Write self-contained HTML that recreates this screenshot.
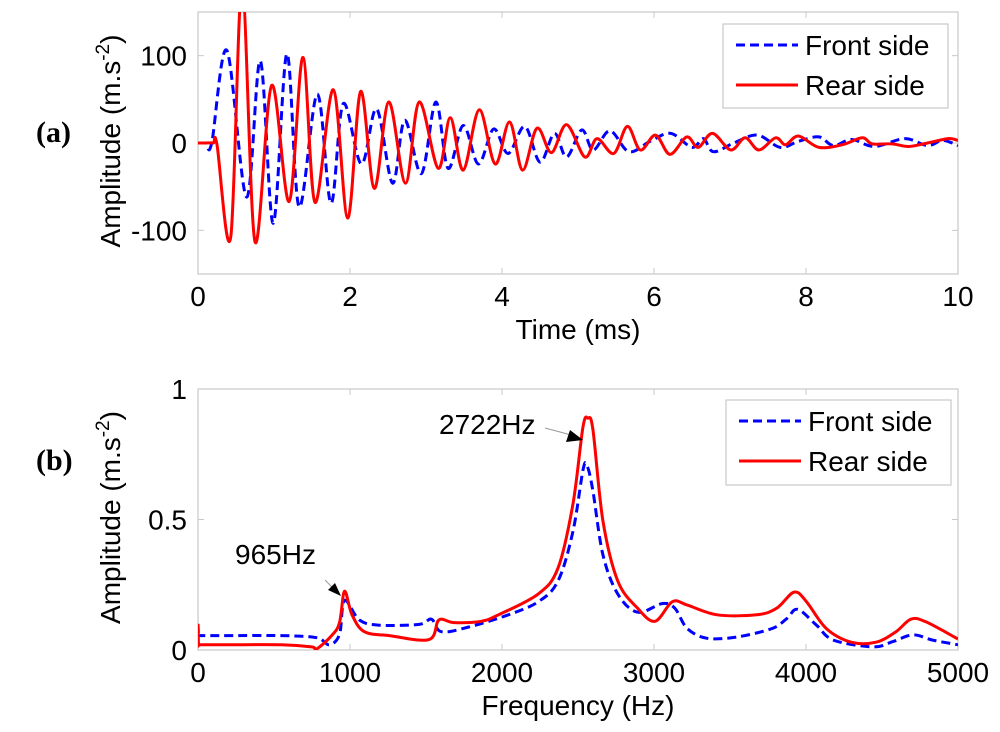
<!DOCTYPE html>
<html><head><meta charset="utf-8">
<style>
html,body{margin:0;padding:0;background:#fff;}
svg{display:block;font-family:"Liberation Sans",Arial,sans-serif;}
</style></head>
<body>
<svg id="chart" width="1000" height="732" viewBox="0 0 1000 732" xmlns="http://www.w3.org/2000/svg">
<text x="36" y="142" font-family="Liberation Serif,serif" font-weight="bold" font-size="30">(a)</text>
<text x="36" y="470" font-family="Liberation Serif,serif" font-weight="bold" font-size="30">(b)</text>
<g id="pa"></g>
<g id="pb"></g>
</svg>
<script>
// Panel (a) data: time (ms) and amplitude
const frontT=[0,0.1,0.18,0.38,0.64,0.82,0.99,1.17,1.33,1.57,1.75,1.91,2.15,2.35,2.56,2.72,2.94,3.13,3.29,3.49,3.69,3.89,4.08,4.30,4.50,4.69,4.85,5.05,5.2,5.42,5.67,5.95,6.22,6.5,6.65,6.78,7.05,7.36,7.66,7.9,8.17,8.36,8.6,8.9,9.3,9.6,9.8,10];
const frontA=[0,0,0,106,-62,94,-92,102,-73,56,-69,45,-24,39,-46,26,-35,47,-29,20,-24,16,-12,19,-22,11,-16,15,-8,14,-10,2,11,-5,5,-10,0,9,-5,2,7,-3,4,-4,5,-3,3,-3];
const rearT=[0,0.1,0.2,0.25,0.43,0.58,0.75,0.97,1.2,1.38,1.54,1.78,1.97,2.14,2.32,2.51,2.73,2.91,3.16,3.32,3.49,3.70,3.91,4.10,4.27,4.46,4.65,4.85,5.09,5.25,5.47,5.65,5.82,6.02,6.21,6.43,6.58,6.77,7.01,7.2,7.38,7.6,7.73,7.9,8.17,8.48,8.74,8.87,9.13,9.35,9.6,9.87,10];
const rearA=[0,0,0,-2,-108,180,-113,66,-67,98,-68,61,-86,59,-52,47,-46,47,-29,29,-31,38,-24,24,-31,17,-11,21,-16,5,-12,19,-8,9,-13,7,-5,11,-8,6,-8,6,-2,8,-5,-2,6,-1,-1,-4,0,5,3];
const aXTicks=[0,2,4,6,8,10];
const aYTicks=[-100,0,100];
// Panel (b) data: frequency (Hz) and amplitude
const frontF=[0,3,6,200,550,781,863,931,964,1062,1193,1454,1536,1601,1781,2042,2239,2369,2467,2533,2560,2598,2664,2761,2892,3056,3137,3219,3350,3546,3775,3873,3945,4069,4180,4441,4572,4703,4833,5000];
const frontM=[0.1,0.055,0.055,0.055,0.055,0.047,0.02,0.06,0.19,0.115,0.095,0.098,0.118,0.07,0.088,0.135,0.185,0.265,0.455,0.69,0.705,0.61,0.365,0.215,0.145,0.178,0.16,0.082,0.045,0.05,0.082,0.12,0.156,0.095,0.038,0.012,0.032,0.058,0.038,0.02];
const rearF=[0,3,6,200,550,748,780,879,931,964,1013,1095,1258,1520,1585,1683,1863,1977,2239,2369,2467,2533,2565,2598,2664,2761,2892,3007,3121,3219,3415,3676,3807,3922,4003,4134,4297,4461,4592,4690,4788,5000];
const rearM=[0.1,0.02,0.02,0.02,0.02,0.012,0.004,0.055,0.105,0.225,0.135,0.07,0.055,0.04,0.115,0.105,0.11,0.135,0.215,0.315,0.56,0.855,0.888,0.845,0.495,0.265,0.16,0.11,0.185,0.172,0.135,0.135,0.16,0.222,0.185,0.082,0.03,0.03,0.07,0.118,0.108,0.042];
const bXTicks=[0,1000,2000,3000,4000,5000];
const bYTicks=[0,0.5,1];
const bYLabels=['0','0.5','1'];

const NS='http://www.w3.org/2000/svg';
function mk(tag,attrs,parent){const e=document.createElementNS(NS,tag);for(const k in attrs)e.setAttribute(k,attrs[k]);parent.appendChild(e);return e;}
function smooth(pts){let d='M'+pts[0][0].toFixed(1)+','+pts[0][1].toFixed(1);
 for(let i=0;i<pts.length-1;i++){const p0=pts[Math.max(0,i-1)],p1=pts[i],p2=pts[i+1],p3=pts[Math.min(pts.length-1,i+2)];
 const c1x=p1[0]+(p2[0]-p0[0])/6,c1y=p1[1]+(p2[1]-p0[1])/6,c2x=p2[0]-(p3[0]-p1[0])/6,c2y=p2[1]-(p3[1]-p1[1])/6;
 d+=' C'+c1x.toFixed(1)+','+c1y.toFixed(1)+' '+c2x.toFixed(1)+','+c2y.toFixed(1)+' '+p2[0].toFixed(1)+','+p2[1].toFixed(1);}
 return d;}

function panel(g,o){
 const X=v=>o.x0+(v-o.xmin)/(o.xmax-o.xmin)*(o.x1-o.x0);
 const Y=v=>o.y0-(v-o.ymin)/(o.ymax-o.ymin)*(o.y0-o.y1);
 const ax=mk('rect',{x:o.x0,y:o.y1,width:o.x1-o.x0,height:o.y0-o.y1,fill:'#fff',stroke:'#c8c8c8','stroke-width':1.2},g);
 
 
 o.xt.forEach((t,i)=>{const x=X(t);
  mk('line',{x1:x,x2:x,y1:o.y0,y2:o.y0-6,stroke:'#c8c8c8'},g);mk('line',{x1:x,x2:x,y1:o.y1,y2:o.y1+6,stroke:'#c8c8c8'},g);
  const tx=mk('text',{x:x,y:o.y0+32,'font-size':28,'text-anchor':'middle',fill:'#000'},g);tx.textContent=String(t);
  
  });
 o.yt.forEach((t,i)=>{const y=Y(t);
  mk('line',{x1:o.x0,x2:o.x0+6,y1:y,y2:y,stroke:'#c8c8c8'},g);mk('line',{x1:o.x1,x2:o.x1-6,y1:y,y2:y,stroke:'#c8c8c8'},g);
  const tx=mk('text',{x:o.x0-11,y:y+10,'font-size':28,'text-anchor':'end',fill:'#000'},g);tx.textContent=o.yl?o.yl[i]:String(t);
  
  });
 const cid='clip'+o.id;const cp=mk('clipPath',{id:cid},g);mk('rect',{x:o.x0,y:o.y1,width:o.x1-o.x0,height:o.y0-o.y1},cp);
 const p1=mk('path',{d:smooth(o.fx.map((v,i)=>[X(v),Y(o.fy[i])])),fill:'none',stroke:'#0000ff','stroke-width':3,'stroke-dasharray':'9,5','clip-path':'url(#'+cid+')'},g);
 
 
 const p2=mk('path',{d:smooth(o.rx.map((v,i)=>[X(v),Y(o.ry[i])])),fill:'none',stroke:'#ff0000','stroke-width':3,'clip-path':'url(#'+cid+')'},g);
 
 
 const xl=mk('text',{x:(o.x0+o.x1)/2,y:o.y0+65,'font-size':28,'text-anchor':'middle'},g);xl.textContent=o.xlabel;
 
 
 const cy=(o.y0+o.y1)/2;
 const yl=mk('text',{x:0,y:0,'font-size':28,'text-anchor':'middle',transform:'translate('+(o.x0-78)+','+(cy-2)+') rotate(-90)'},g);
 yl.innerHTML='Amplitude (m.s<tspan dy="-11" font-size="19">-2</tspan><tspan dy="11">)</tspan>';
 
 
 const L=o.leg;const lg=mk('g',{},g);
 
 
 mk('rect',{x:L[0],y:L[1],width:L[2],height:L[3],fill:'#fff',stroke:'#c8c8c8','stroke-width':1.2},lg);
 mk('line',{x1:L[0]+13,x2:L[0]+75,y1:L[1]+21,y2:L[1]+21,stroke:'#0000ff','stroke-width':3,'stroke-dasharray':'9,5'},lg);
 mk('line',{x1:L[0]+13,x2:L[0]+75,y1:L[1]+61,y2:L[1]+61,stroke:'#ff0000','stroke-width':3},lg);
 const t1=mk('text',{x:L[0]+82,y:L[1]+31,'font-size':28},lg);t1.textContent='Front side';
 const t2=mk('text',{x:L[0]+82,y:L[1]+71,'font-size':28},lg);t2.textContent='Rear side';
 return {X,Y};
}
panel(document.getElementById('pa'),{id:'a',x0:198,x1:958,y0:274,y1:12,xmin:0,xmax:10,ymin:-150,ymax:150,xt:aXTicks,yt:aYTicks,
 fx:frontT,fy:frontA,rx:rearT,ry:rearA,xlabel:'Time (ms)',leg:[723,24,225,84]});
const b=panel(document.getElementById('pb'),{id:'b',x0:198,x1:958,y0:650,y1:389,xmin:0,xmax:5000,ymin:0,ymax:1,xt:bXTicks,yt:bYTicks,yl:bYLabels,
 fx:frontF,fy:frontM,rx:rearF,ry:rearM,xlabel:'Frequency (Hz)',leg:[726,400,225,85]});
const pb=document.getElementById('pb');
const a1=mk('text',{x:235,y:564,'font-size':28},pb);a1.textContent='965Hz';


mk('line',{x1:325,y1:580,x2:336,y2:591,stroke:'#999','stroke-width':1},pb);
mk('polygon',{points:'341,596 328,590 335,583',fill:'#000'},pb);
const a2=mk('text',{x:439,y:434,'font-size':28},pb);a2.textContent='2722Hz';


mk('line',{x1:545,y1:428,x2:575,y2:436,stroke:'#999','stroke-width':1},pb);
mk('polygon',{points:'583,440 566,442 570,430',fill:'#000'},pb);
</script>
</body></html>
